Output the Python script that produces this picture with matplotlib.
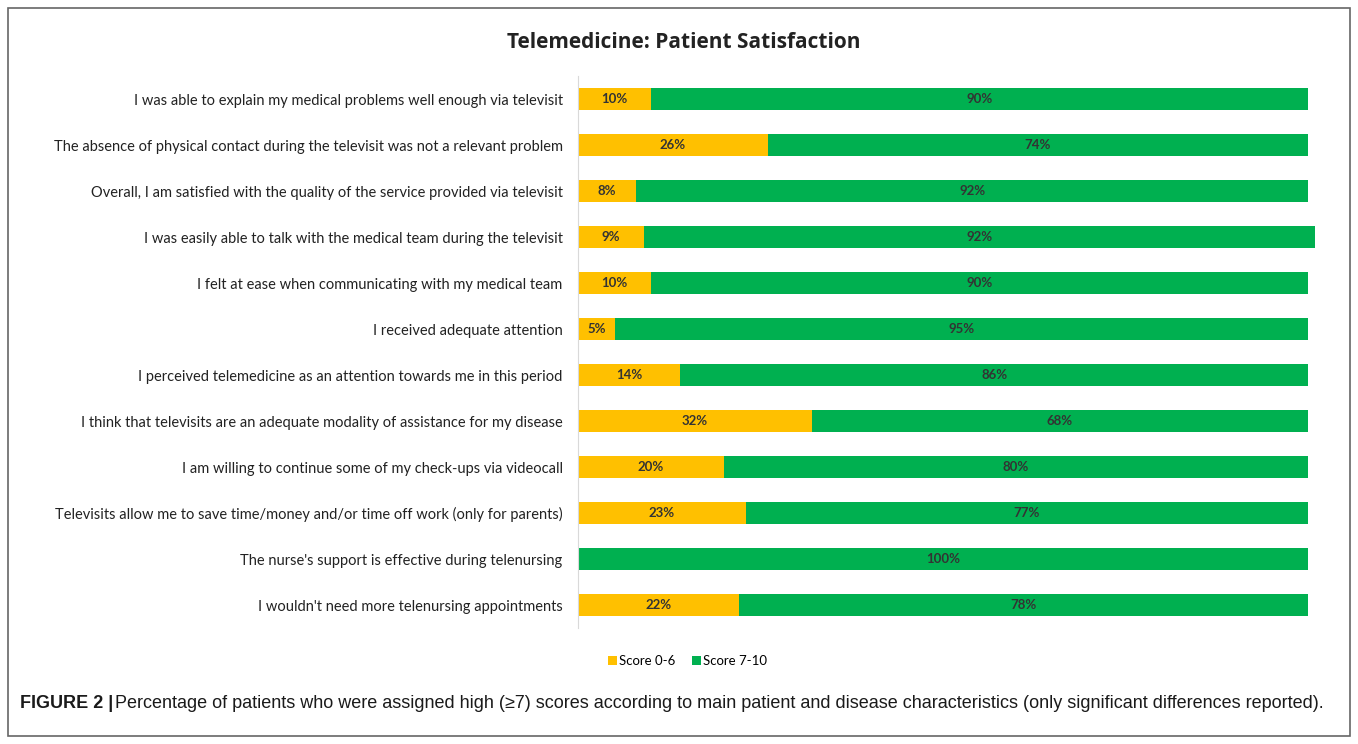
import numpy as np
import matplotlib.pyplot as plt
from matplotlib.patches import Rectangle

questions = [
    "I was able to explain my medical problems well enough via televisit",
    "The absence of physical contact during the televisit was not a relevant problem",
    "Overall, I am satisfied with the quality of the service provided via televisit",
    "I was easily able to talk with the medical team during the televisit",
    "I felt at ease when communicating with my medical team",
    "I received adequate attention",
    "I perceived telemedicine as an attention towards me in this period",
    "I think that televisits are an adequate modality of assistance for my disease",
    "I am willing to continue some of my check-ups via videocall",
    "Televisits allow me to save time/money and/or time off work (only for parents)",
    "The nurse's support is effective during telenursing",
    "I wouldn't need more telenursing appointments",
]
low = [10, 26, 8, 9, 10, 5, 14, 32, 20, 23, 0, 22]
high = [90, 74, 92, 92, 90, 95, 86, 68, 80, 77, 100, 78]

yellow = "#FFC000"
green = "#00B050"

fig = plt.figure(figsize=(13.58, 7.44), dpi=100)
ax = fig.add_axes([578 / 1358, 1 - 628 / 744, 730 / 1358, 552 / 744])

y = np.arange(len(questions))
b1 = ax.barh(y, low, height=0.48, color=yellow, label="Score 0-6")
b2 = ax.barh(y, high, left=low, height=0.48, color=green, label="Score 7-10")
for bar in list(b1) + list(b2):
    bar.set_clip_on(False)

for i in range(len(questions)):
    if low[i] > 0:
        ax.text(low[i] / 2, y[i], f"{low[i]}%", ha="center", va="center",
                fontsize=9.5, color="#333333", family="Lato", fontweight="bold")
    ax.text(low[i] + high[i] / 2, y[i], f"{high[i]}%", ha="center", va="center",
            fontsize=9.5, color="#333333", family="Lato", fontweight="bold")

ax.set_xlim(0, 100)
ax.set_ylim(len(questions) - 0.5, -0.5)
ax.set_yticks(y)
ax.set_yticklabels(questions, family="Lato", fontsize=10.5, color="#222222")
ax.tick_params(axis="y", length=0, pad=11)
ax.set_xticks([])
for side in ["top", "right", "bottom"]:
    ax.spines[side].set_visible(False)
ax.spines["left"].set_color("#d9d9d9")

fig.text(684 / 1358, 1 - 42 / 744, "Telemedicine: Patient Satisfaction",
         ha="center", va="center", fontsize=15, fontweight="bold",
         family="Open Sans", color="#222222")

ax.legend(loc="center", bbox_to_anchor=(0.15, -0.06), ncol=2, frameon=False,
          handlelength=0.7, handleheight=0.7, handletextpad=0.2, columnspacing=1.2,
          prop={"family": "Lato", "size": 9.5})

fig.text(20 / 1358, 1 - 703 / 744, "FIGURE 2 |", ha="left", va="center",
         fontsize=13, fontweight="bold", family="Liberation Sans", color="#1a1a1a")
fig.text(115 / 1358, 1 - 703 / 744,
         "Percentage of patients who were assigned high (\u22657) scores according to main "
         "patient and disease characteristics (only significant differences reported).",
         ha="left", va="center", fontsize=13, family="Liberation Sans", color="#1a1a1a")

fig.patches.append(Rectangle((8 / 1358, 8 / 744), 1342 / 1358, 728 / 744,
                             transform=fig.transFigure, fill=False,
                             edgecolor="#666666", linewidth=1.2))

fig.savefig("out.png", dpi=100)
